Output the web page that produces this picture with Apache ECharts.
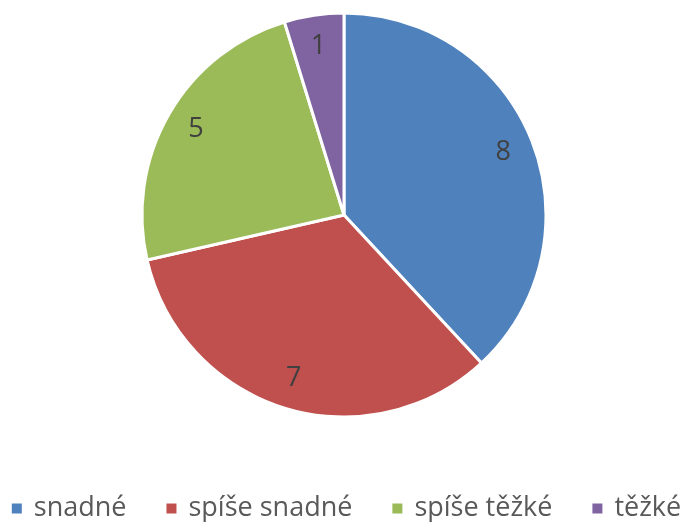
<!DOCTYPE html>
<html>
<head>
<meta charset="utf-8">
<script src="https://cdn.jsdelivr.net/npm/echarts@6/dist/echarts.min.js"></script>
<style>
  html, body { margin: 0; padding: 0; background: #fff; }
  #chart { width: 691px; height: 522px; }
</style>
</head>
<body>
<div id="chart"></div>
<script>
const categories = ['snadné', 'spíše snadné', 'spíše těžké', 'těžké']
const values = [8, 7, 5, 1]
const colors = ['#4F81BD', '#C0504D', '#9BBB59', '#8064A2']

const chart = echarts.init(document.getElementById('chart'))

const data = categories.map((name, i) => ({ name, value: values[i] }))

const option = {
  animation: false,
  color: colors,
  legend: {
    top: 490,
    left: 'center',
    icon: 'rect',
    itemWidth: 12,
    itemHeight: 12,
    itemGap: 38,
    textStyle: {
      color: '#595959',
      fontSize: 27,
      fontFamily: 'Open Sans',
      padding: [0, 0, 0, 6]
    },
    data: categories
  },
  series: [
    {
      type: 'pie',
      center: [344, 215],
      radius: 202,
      startAngle: 90,
      clockwise: true,
      data,
      label: { show: false },
      labelLine: { show: false },
      itemStyle: { borderColor: '#fff', borderWidth: 3 },
      emphasis: { disabled: true }
    },
    {
      // label ring only, so numbers sit near the outer edge like the original
      type: 'pie',
      center: [344, 215],
      radius: [134, 202],
      startAngle: 90,
      clockwise: true,
      silent: true,
      data,
      itemStyle: { color: 'rgba(0,0,0,0)' },
      label: {
        show: true,
        position: 'inside',
        formatter: '{c}',
        color: '#404040',
        fontSize: 27,
        fontFamily: 'Open Sans'
      },
      labelLine: { show: false },
      emphasis: { disabled: true }
    }
  ]
}

chart.setOption(option)
</script>
</body>
</html>
